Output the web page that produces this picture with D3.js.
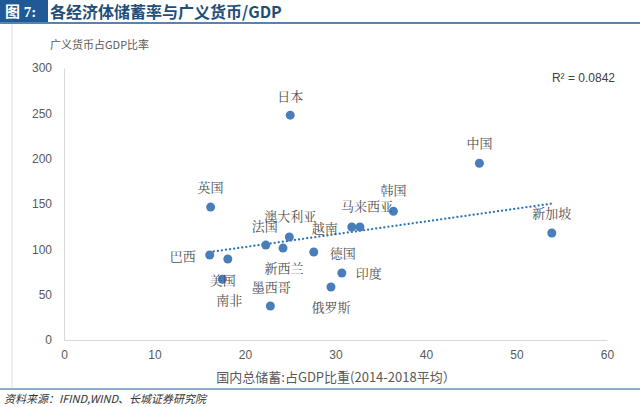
<!DOCTYPE html>
<html><head><meta charset="utf-8">
<script src="https://cdn.jsdelivr.net/npm/d3@7"></script>
<style>body{margin:0;background:#fff}svg{display:block}</style>
</head><body><svg id="c" width="640" height="407"></svg>
<script>
const names = ["英国","日本","中国","韩国","新加坡","马来西亚","越南","澳大利亚","法国","新西兰","德国","巴西","美国","南非","印度","俄罗斯","墨西哥"];
const savings = [16.2,25.0,45.9,36.4,53.9,32.7,31.8,24.9,22.3,24.2,27.6,16.1,18.1,17.5,30.7,29.5,22.8];
const m2gdp = [146.6,248,195,142,118,124.6,124.6,113.6,104.7,101.4,97,93.7,89.3,67,73.9,58.4,37.5];
const xTicks = [0,10,20,30,40,50,60];
const yTicks = [0,50,100,150,200,250,300];

// label offsets relative to point
const labelOff = {"英国":[0,-20],"日本":[0,-19],"中国":[0,-20],"韩国":[0,-21],"新加坡":[0,-20],
  "马来西亚":[7,-21],"越南":[-27,1],"澳大利亚":[1,-21],"法国":[-1,-19],"新西兰":[1,20],"德国":[29,1],
  "巴西":[-27,1],"美国":[-5,21],"南非":[7,21],"印度":[27,0],"俄罗斯":[0,20],"墨西哥":[1,-19]};

const svg = d3.select("#c");
const font = "'Noto Sans CJK SC', sans-serif";

// header
svg.append("rect").attr("x",0).attr("y",0).attr("width",48).attr("height",22).attr("fill","#1f5a96");
svg.append("text").attr("x",5).attr("y",17).attr("fill","#fff").attr("font-family","'Liberation Serif','Noto Sans CJK SC'")
  .attr("font-weight","bold").attr("font-size",15).text("图 7:");
svg.append("text").attr("x",50).attr("y",18).attr("fill","#1f4e79").attr("font-family","'Noto Sans CJK SC','Liberation Serif'")
  .attr("font-weight","bold").attr("font-size",16).text("各经济体储蓄率与广义货币/GDP");
svg.append("line").attr("x1",0).attr("x2",640).attr("y1",23).attr("y2",23).attr("stroke","#1f5a96").attr("stroke-width",1.5);
svg.append("line").attr("x1",12).attr("x2",12).attr("y1",24).attr("y2",388).attr("stroke","#ddd");
svg.append("line").attr("x1",0).attr("x2",640).attr("y1",389).attr("y2",389).attr("stroke","#1f5a96").attr("stroke-width",1);
svg.append("text").attr("x",4).attr("y",403).attr("fill","#333").attr("font-family",font).attr("font-style","italic")
  .attr("font-size",11).text("资料来源：IFIND,WIND、长城证券研究院");

const x = d3.scaleLinear().domain([0,60]).range([64,607]);
const y = d3.scaleLinear().domain([0,300]).range([340,68]);

const gx = svg.append("g").attr("transform","translate(0,340)")
  .call(d3.axisBottom(x).tickValues(xTicks).tickSize(0).tickPadding(10));
const gy = svg.append("g").attr("transform","translate(64,0)")
  .call(d3.axisLeft(y).tickValues(yTicks).tickSize(0).tickPadding(12));
[gx,gy].forEach(g=>{
  g.selectAll("text").attr("font-family","'Liberation Sans',sans-serif").attr("font-size",12).attr("fill","#595959");
  g.select(".domain").attr("stroke","#d9d9d9");
});

svg.append("text").attr("x",50).attr("y",49).attr("fill","#595959").attr("font-family",font).attr("font-size",11).text("广义货币占GDP比率");
svg.append("text").attr("x",336).attr("y",382).attr("text-anchor","middle").attr("fill","#595959").attr("font-family",font)
  .attr("font-size",13).text("国内总储蓄:占GDP比重(2014-2018平均）");
svg.append("text").attr("x",615).attr("y",82).attr("text-anchor","end").attr("fill","#404040").attr("font-family","'Liberation Sans',sans-serif")
  .attr("font-size",12).text("R² = 0.0842");

// OLS trend line
const n = savings.length;
const mx = d3.mean(savings), my = d3.mean(m2gdp);
let sxy=0,sxx=0;
for(let i=0;i<n;i++){sxy+=(savings[i]-mx)*(m2gdp[i]-my);sxx+=(savings[i]-mx)**2;}
const b = sxy/sxx, a = my-b*mx;
const [x0,x1] = d3.extent(savings);
svg.append("line").attr("x1",x(x0)).attr("y1",y(a+b*x0)).attr("x2",x(x1)).attr("y2",y(a+b*x1))
  .attr("stroke","#2e75b6").attr("stroke-width",2.2).attr("stroke-dasharray","0.1,4").attr("stroke-linecap","round");

const data = names.map((nm,i)=>({nm,sx:savings[i],my:m2gdp[i]}));
svg.append("g").selectAll("circle").data(data).join("circle")
  .attr("cx",d=>x(d.sx)).attr("cy",d=>y(d.my)).attr("r",4.5).attr("fill","#4a7ebb");
svg.append("g").selectAll("text").data(data).join("text")
  .attr("x",d=>x(d.sx)+labelOff[d.nm][0]).attr("y",d=>y(d.my)+labelOff[d.nm][1]+5)
  .attr("text-anchor","middle").attr("font-family","'Noto Serif CJK SC','Noto Sans CJK SC',sans-serif").attr("font-size",13).attr("fill","#505050")
  .text(d=>d.nm);
</script></body></html>
